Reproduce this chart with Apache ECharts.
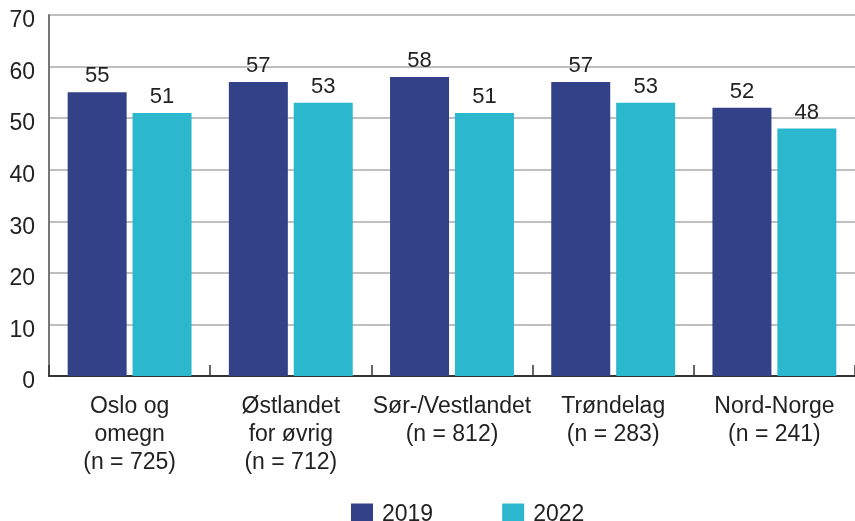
<!DOCTYPE html>
<html>
<head>
<meta charset="UTF-8"/>
<title>Chart</title>
<script src="https://cdn.jsdelivr.net/npm/echarts@6/dist/echarts.min.js"></script>
<style>
  html, body { margin: 0; padding: 0; background: #fff; }
  #main { width: 855px; height: 521px; }
</style>
</head>
<body>
<div id="main"></div>
<script type="text/javascript">
// regions (x axis labels)
var regions = [
  'Oslo og\nomegn\n(n = 725)',
  'Østlandet\nfor øvrig\n(n = 712)',
  'Sør-/Vestlandet\n(n = 812)',
  'Trøndelag\n(n = 283)',
  'Nord-Norge\n(n = 241)'
];
var seriesNames = ['2019', '2022'];
var values2019 = [55, 57, 58, 57, 52];
var values2022 = [51, 53, 51, 53, 48];
var yTicks = [0, 10, 20, 30, 40, 50, 60, 70];

var font = "'Liberation Sans', Arial, sans-serif";
var myChart = echarts.init(document.getElementById('main'));

var option = {
  animation: false,
  textStyle: { fontFamily: font },
  grid: { left: 49, top: 15, width: 812, bottom: 145 },
  legend: {
    data: seriesNames,
    left: 346,
    top: 498,
    itemWidth: 22,
    itemHeight: 22,
    itemGap: 69,
    icon: 'rect',
    textStyle: { fontSize: 23, color: '#222', fontFamily: font, padding: [0, 0, 0, 4] }
  },
  xAxis: {
    type: 'category',
    data: regions,
    axisLine: { lineStyle: { color: '#333', width: 2 } },
    axisTick: { show: true, inside: true, length: 11, lineStyle: { color: '#333', width: 1.5 } },
    axisLabel: {
      interval: 0,
      margin: 17,
      fontSize: 23,
      lineHeight: 28,
      color: '#222',
      fontFamily: font
    }
  },
  yAxis: {
    type: 'value',
    min: yTicks[0],
    max: yTicks[yTicks.length - 1],
    interval: 10,
    axisLine: { show: true, lineStyle: { color: '#777', width: 2 } },
    axisTick: { show: false },
    axisLabel: {
      fontSize: 23, color: '#222', margin: 14,
      verticalAlign: 'top', lineHeight: 12, fontFamily: font
    },
    splitLine: { lineStyle: { color: '#aaaaaa', width: 1.5 } }
  },
  series: [
    {
      name: seriesNames[0],
      type: 'bar',
      data: values2019,
      barWidth: 59,
      barGap: '10%',
      itemStyle: { color: '#334188' },
      label: { show: true, position: 'top', distance: 5, fontSize: 22, color: '#222', fontFamily: font }
    },
    {
      name: seriesNames[1],
      type: 'bar',
      data: values2022,
      barWidth: 59,
      barGap: '10%',
      itemStyle: { color: '#2bb8ce' },
      label: { show: true, position: 'top', distance: 5, fontSize: 22, color: '#222', fontFamily: font }
    }
  ]
};

myChart.setOption(option);
</script>
</body>
</html>
